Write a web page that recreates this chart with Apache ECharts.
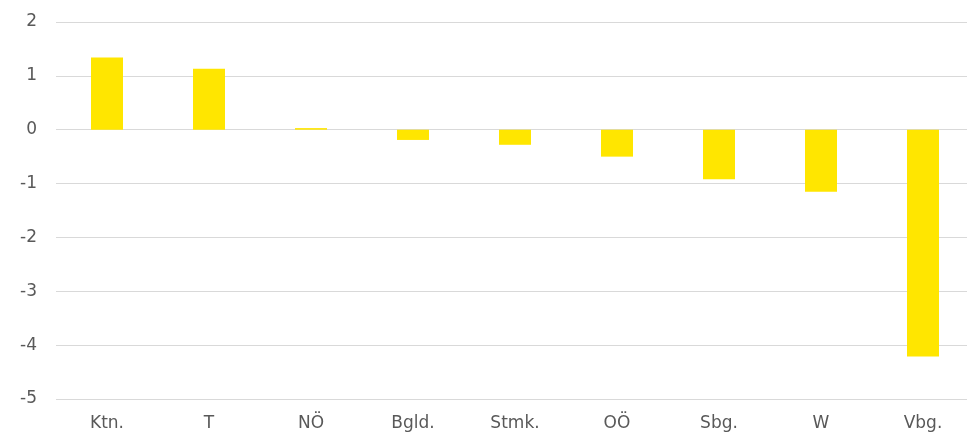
<!DOCTYPE html>
<html lang="de">
<head>
	<meta charset="UTF-8">
	<title>Bundesländer</title>
	<script src="https://cdn.jsdelivr.net/npm/echarts@6/dist/echarts.min.js"></script>
	<style>
		html, body { margin: 0; padding: 0; background: #fff; overflow: hidden; }
	</style>
</head>
<body>
	<!-- etwas breiter als das Fenster: das Diagramm läuft rechts aus dem Bild -->
	<div id="main" style="width:980px;height:432px;"></div>
	<script type="text/javascript">
        var categories = ['Ktn.', 'T', 'NÖ', 'Bgld.', 'Stmk.', 'OÖ', 'Sbg.', 'W', 'Vbg.'];
        var values = [1.34, 1.13, 0.03, -0.19, -0.28, -0.5, -0.92, -1.15, -4.21];
        var yTicks = [-5, -4, -3, -2, -1, 0, 1, 2];

        var myChart = echarts.init(document.getElementById('main'));
        myChart.setOption({
            animation: false,
            grid: { left: 56, top: 22, width: 918, height: 377, containLabel: false },
            xAxis: {
                type: 'category',
                data: categories,
                axisLine: { show: false },
                axisTick: { show: false },
                axisLabel: {
                    margin: 16,
                    fontSize: 17,
                    color: '#595959',
                    fontFamily: 'DejaVu Sans'
                }
            },
            yAxis: {
                type: 'value',
                min: yTicks[0],
                max: yTicks[yTicks.length - 1],
                interval: 1,
                axisLine: { show: false },
                axisTick: { show: false },
                axisLabel: {
                    margin: 19,
                    fontSize: 17,
                    color: '#595959',
                    fontFamily: 'DejaVu Sans'
                },
                splitLine: { lineStyle: { color: '#d9d9d9', width: 1 } }
            },
            series: [{
                type: 'bar',
                data: values,
                barWidth: 32,
                itemStyle: { color: '#FFE600' }
            }]
        });
    </script>
</body>
</html>
